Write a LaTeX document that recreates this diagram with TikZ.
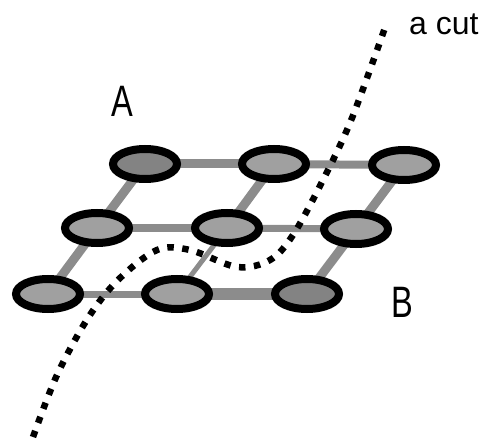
\documentclass[tikz,border=0pt]{standalone}
\usepackage{fontspec}
\setmainfont{Liberation Sans}
\usetikzlibrary{shapes.geometric,backgrounds}
\definecolor{edgegray}{HTML}{8C8C8C}
\definecolor{nodegray}{HTML}{A0A0A0}
\definecolor{darkgray2}{HTML}{838383}
\tikzset{
  vert/.style={ellipse, draw=black, line width=8pt, fill=nodegray, minimum width=64pt, minimum height=30pt, inner sep=0pt},
  dark/.style={fill=darkgray2},
  link/.style={draw=edgegray, line width=9pt},
  cutline/.style={line width=6.5pt, dash pattern=on 6.5pt off 8.5pt, black},
  lbl/.style={font=\fontsize{44}{48}\selectfont, xscale=0.74, inner sep=0pt}
}
\begin{document}
\begin{tikzpicture}[x=1pt,y=-1pt]
\useasboundingbox (0,0) rectangle (495,446);
% vertices
\node[vert,dark] (a1) at (145,164) {};
\node[vert] (a2) at (274,164) {};
\node[vert] (a3) at (404,165) {};
\node[vert] (b1) at (97,228) {};
\node[vert] (b2) at (227,228) {};
\node[vert] (b3) at (356,229) {};
\node[vert] (c1) at (48,294) {};
\node[vert] (c2) at (177,294) {};
\node[vert,dark] (c3) at (307,294) {};
% edges
\begin{scope}[on background layer]
\draw[link] (a1.center) -- (a2.center);
\draw[link, line width=8pt] (a2.center) -- (a3.center);
\draw[link, line width=8pt] (b1.center) -- (b2.center);
\draw[link, line width=7pt] (b2.center) -- (b3.center);
\draw[link, line width=7pt] (c1.center) -- (c2.center);
\draw[link, line width=12pt] (c2.center) -- (c3.center);
\draw[link] (a1.center) -- (b1.center);
\draw[link] (a2.center) -- (b2.center);
\draw[link] (a3.center) -- (b3.center);
\draw[link] (b1.center) -- (c1.center);
\draw[link, line width=5pt] (b2.center) -- (c2.center);
\draw[link] (b3.center) -- (c3.center);
\end{scope}
% the cut
\draw[cutline] plot[smooth, tension=0.55] coordinates {(33,437) (57,375) (88,318) (118,280) (157,250) (190,250) (237,267) (270,260) (293,235) (323,180) (352,118) (387,22)};
% labels
\node[lbl, anchor=base west] (la) at (111,117) {A};
\node[lbl, anchor=base west] (lb) at (391,317) {B};
\node[font=\fontsize{32}{36}\selectfont, inner sep=0pt, anchor=base west] (lc) at (409,35) {a cut};
\end{tikzpicture}
\end{document}
